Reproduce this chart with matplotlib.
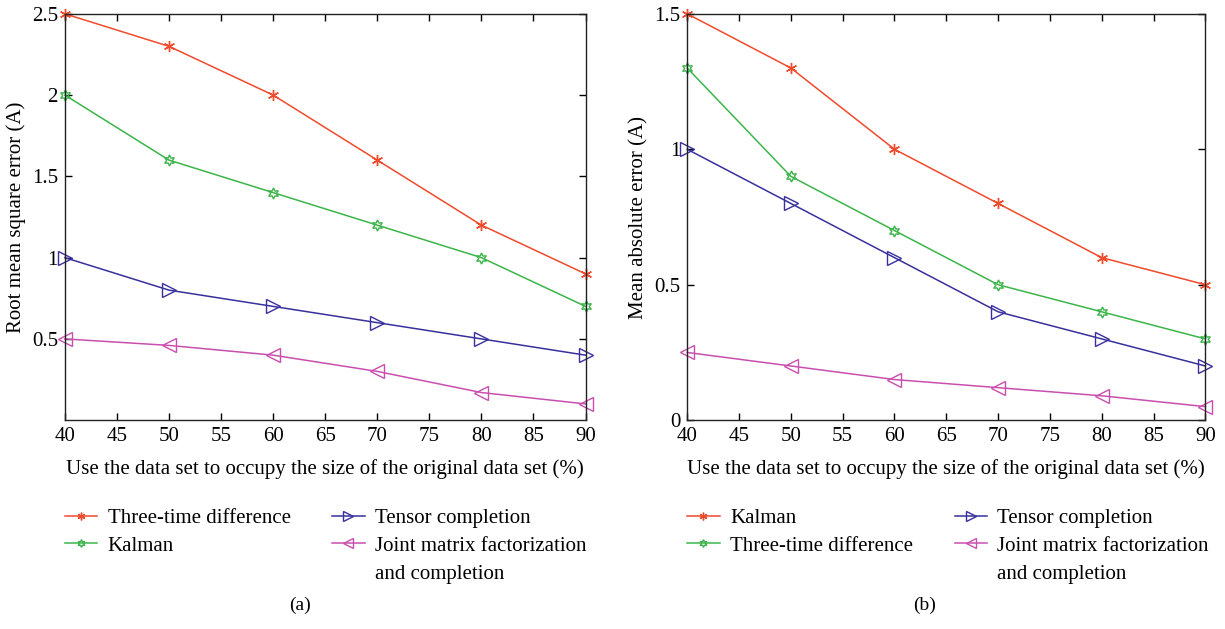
import numpy as np
import matplotlib.pyplot as plt
import matplotlib
from matplotlib.lines import Line2D

matplotlib.rcParams['font.family'] = 'Liberation Serif'
matplotlib.rcParams['xtick.direction'] = 'in'
matplotlib.rcParams['ytick.direction'] = 'in'
matplotlib.rcParams['xtick.top'] = True
matplotlib.rcParams['ytick.right'] = True

sizes = [40, 50, 60, 70, 80, 90]

# (a) root mean square error
rmse_three_time = [2.5, 2.3, 2.0, 1.6, 1.2, 0.9]
rmse_kalman = [2.0, 1.6, 1.4, 1.2, 1.0, 0.7]
rmse_tensor = [1.0, 0.8, 0.7, 0.6, 0.5, 0.4]
rmse_joint = [0.5, 0.46, 0.4, 0.3, 0.17, 0.1]

# (b) mean absolute error
mae_kalman = [1.5, 1.3, 1.0, 0.8, 0.6, 0.5]
mae_three_time = [1.3, 0.9, 0.7, 0.5, 0.4, 0.3]
mae_tensor = [1.0, 0.8, 0.6, 0.4, 0.3, 0.2]
mae_joint = [0.25, 0.2, 0.15, 0.12, 0.09, 0.05]

red = '#f04a2c'
green = '#3bb54a'
blue = '#38309c'
pink = '#c94fae'

star_kw = dict(marker=(6, 2, 0), markersize=8, mew=1.0)
hexa_kw = dict(marker=(6, 1, 0), markersize=8, mew=1.0, mfc='none')
right_kw = dict(marker='>', markersize=10, mew=1.0, mfc='none')
left_kw = dict(marker='<', markersize=10, mew=1.0, mfc='none')

fig = plt.figure(figsize=(12.25, 6.29), dpi=100)
ax1 = fig.add_axes([0.053, 0.332, 0.425, 0.646])
ax2 = fig.add_axes([0.561, 0.332, 0.423, 0.646])

l1, = ax1.plot(sizes, rmse_three_time, color=red, lw=1.1, label='Three-time difference', **star_kw)
l2, = ax1.plot(sizes, rmse_kalman, color=green, lw=1.1, label='Kalman', **hexa_kw)
l3, = ax1.plot(sizes, rmse_tensor, color=blue, lw=1.1, label='Tensor completion', **right_kw)
l4, = ax1.plot(sizes, rmse_joint, color=pink, lw=1.1, label='Joint matrix factorization', **left_kw)
ax1.set_xlim(40, 90)
ax1.set_ylim(0, 2.5)
ax1.set_yticks([0.5, 1, 1.5, 2, 2.5])
ax1.set_yticklabels(['0.5', '1', '1.5', '2', '2.5'])
ax1.set_ylabel('Root mean square error (A)', fontsize=15)

m1, = ax2.plot(sizes, mae_kalman, color=red, lw=1.1, label='Kalman', **star_kw)
m2, = ax2.plot(sizes, mae_three_time, color=green, lw=1.1, label='Three-time difference', **hexa_kw)
m3, = ax2.plot(sizes, mae_tensor, color=blue, lw=1.1, label='Tensor completion', **right_kw)
m4, = ax2.plot(sizes, mae_joint, color=pink, lw=1.1, label='Joint matrix factorization', **left_kw)
ax2.set_xlim(40, 90)
ax2.set_ylim(0, 1.5)
ax2.set_yticks([0, 0.5, 1, 1.5])
ax2.set_yticklabels(['0', '0.5', '1', '1.5'])
ax2.set_ylabel('Mean absolute error (A)', fontsize=15)

for ax in [ax1, ax2]:
    ax.set_xticks(range(40, 95, 5))
    ax.tick_params(labelsize=15, length=5, width=1, pad=5)
    ax.set_xlabel('Use the data set to occupy the size of the original data set (%)', fontsize=15, labelpad=9)
    for sp in ax.spines.values():
        sp.set_linewidth(1.0)
        sp.set_color('#222222')
    for line in ax.get_lines():
        line.set_clip_on(False)

def blank(label=''):
    return Line2D([], [], linestyle='none', marker=None, label=label)

leg_kw = dict(ncol=2, frameon=False, fontsize=15, handlelength=1.55, columnspacing=2.0,
              handletextpad=0.5, labelspacing=0.4, markerscale=0.7, borderaxespad=0, borderpad=0)
leg1 = fig.legend(handles=[l1, l2, blank(), l3, l4, blank('and completion')],
                  loc='upper left', bbox_to_anchor=(0.053, 0.192), **leg_kw)
leg2 = fig.legend(handles=[m1, m2, blank(), m3, m4, blank('and completion')],
                  loc='upper left', bbox_to_anchor=(0.561, 0.192), **leg_kw)

fig.text(0.245, 0.037, '(a)', fontsize=14, ha='center', va='center')
fig.text(0.755, 0.037, '(b)', fontsize=14, ha='center', va='center')

fig.savefig('out.png', dpi=100)
